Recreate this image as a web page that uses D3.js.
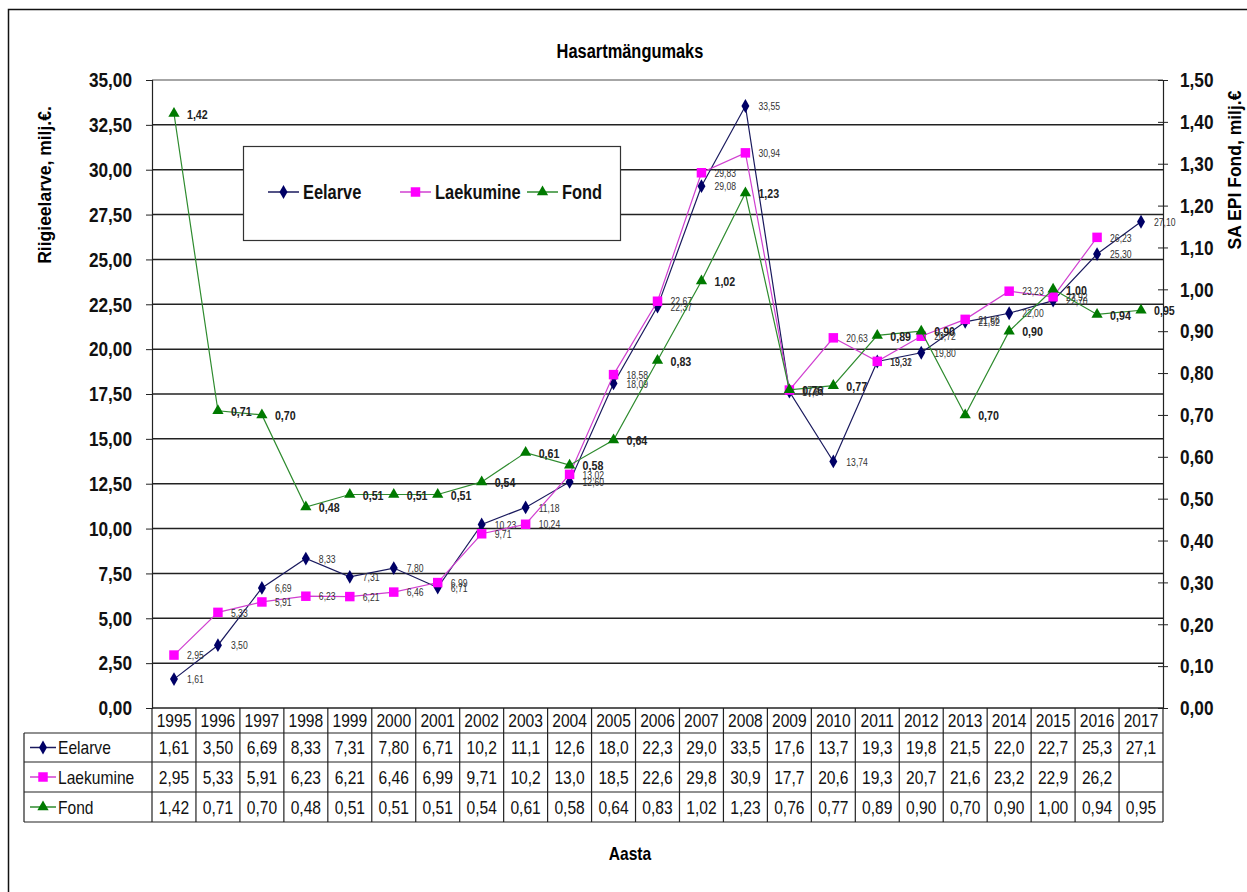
<!DOCTYPE html>
<html>
<head>
<meta charset="utf-8">
<script src="https://cdn.jsdelivr.net/npm/d3@7"></script>
<style>
  body { margin: 0; background: #fff; }
  svg text { font-family: "Liberation Sans Narrow", "Arial Narrow", "Liberation Sans", Arial, sans-serif; }
</style>
</head>
<body>
<div id="chart"></div>
<script>
// values
const years = ["1995", "1996", "1997", "1998", "1999", "2000", "2001", "2002", "2003", "2004", "2005", "2006",
    "2007", "2008", "2009", "2010", "2011", "2012", "2013", "2014", "2015", "2016", "2017"];
const eelarve = [1.61, 3.50, 6.69, 8.33, 7.31, 7.80, 6.71, 10.23, 11.18, 12.60, 18.09, 22.37,
    29.08, 33.55, 17.64, 13.74, 19.31, 19.80, 21.52, 22.00, 22.70, 25.30, 27.10];
const laekumine = [2.95, 5.33, 5.91, 6.23, 6.21, 6.46, 6.99, 9.71, 10.24, 13.02, 18.58, 22.67,
    29.83, 30.94, 17.72, 20.63, 19.32, 20.72, 21.66, 23.23, 22.92, 26.23, null];
const fond = [1.42, 0.71, 0.70, 0.48, 0.51, 0.51, 0.51, 0.54, 0.61, 0.58, 0.64, 0.83,
    1.02, 1.23, 0.76, 0.77, 0.89, 0.90, 0.70, 0.90, 1.00, 0.94, 0.95];
const leftTicks = d3.range(0, 35.01, 2.5);
const rightTicks = d3.range(0, 1.501, 0.1);

const W = 1247, H = 892;
let plot = { left: 152, right: 1163, top: 80, bottom: 708 };

const locale = d3.formatLocale({ decimal: ",", thousands: " ", grouping: [3], currency: ["", "€"] });
const f2 = locale.format(".2f");
// the table shows three digits, cut (not rounded)
function tableText(v) {
    if (v == null) return "";
    if (v >= 10) return locale.format(".1f")(Math.floor(v * 10 + 1e-9) / 10);
    return f2(v);
}

let svg = d3.select("#chart").append("svg")
    .attr("width", W)
    .attr("height", H);

// outer frame (runs off the right and bottom edge)
svg.append("rect")
    .attr("x", 8.5).attr("y", 9.5)
    .attr("width", 1300).attr("height", 950)
    .attr("fill", "#fff")
    .attr("stroke", "#111").attr("stroke-width", 1.5);

let x = d3.scaleBand().domain(years).range([plot.left, plot.right]);
let yL = d3.scaleLinear().domain([0, 35]).range([plot.bottom, plot.top]);
let yR = d3.scaleLinear().domain([0, 1.5]).range([plot.bottom, plot.top]);
const cx = d => x(d) + x.bandwidth() / 2;

// gridlines
svg.append("g")
    .selectAll("line")
    .data(leftTicks)
    .join("line")
    .attr("x1", plot.left).attr("x2", plot.right)
    .attr("y1", d => yL(d)).attr("y2", d => yL(d))
    .attr("stroke", d => d === 35 ? "#888" : "#222")
    .attr("stroke-width", 1.5);

// left axis
let gL = svg.append("g")
    .attr("transform", `translate(${plot.left},0)`)
    .call(d3.axisLeft(yL).tickValues(leftTicks).tickFormat(f2).tickSize(6).tickPadding(14));
gL.select(".domain").attr("stroke", "#222").attr("stroke-width", 1.2);
gL.selectAll(".tick line").attr("stroke", "#222");
gL.selectAll(".tick text")
    .attr("font-size", 21).attr("font-weight", "bold").attr("fill", "#111")
    .style("font-family", "'Liberation Sans Narrow', 'Arial Narrow', 'Liberation Sans', sans-serif");

// right axis, ticks cross the line
let gR = svg.append("g")
    .attr("transform", `translate(${plot.right},0)`)
    .call(d3.axisRight(yR).tickValues(rightTicks).tickFormat(f2).tickSize(5).tickPadding(12));
gR.select(".domain").attr("stroke", "#222").attr("stroke-width", 1.2);
gR.selectAll(".tick line").attr("x1", -5).attr("stroke", "#222");
gR.selectAll(".tick text")
    .attr("font-size", 21).attr("font-weight", "bold").attr("fill", "#111")
    .style("font-family", "'Liberation Sans Narrow', 'Arial Narrow', 'Liberation Sans', sans-serif");

// titles
svg.append("text")
    .attr("x", 630).attr("y", 58)
    .attr("text-anchor", "middle")
    .attr("font-size", 20).attr("font-weight", "bold")
    .text("Hasartmängumaks");

svg.append("text")
    .attr("class", "wide")
    .attr("transform", "translate(51,185) rotate(-90)")
    .attr("text-anchor", "middle")
    .attr("font-size", 17.5).attr("font-weight", "bold")
    .style("font-family", "'Liberation Sans', Arial, sans-serif")
    .text("Riigieelarve, milj.€.");

svg.append("text")
    .attr("class", "wide")
    .attr("transform", "translate(1241,170) rotate(-90)")
    .attr("text-anchor", "middle")
    .attr("font-size", 17.5).attr("font-weight", "bold")
    .style("font-family", "'Liberation Sans', Arial, sans-serif")
    .text("SA EPI Fond, milj.€");

svg.append("text")
    .attr("x", 630).attr("y", 860)
    .attr("text-anchor", "middle")
    .attr("font-size", 19).attr("font-weight", "bold")
    .text("Aasta");

// series setup
let series = [
    { name: "Eelarve", values: eelarve, y: yL, line: "#1a1a5e", fill: "#000066", marker: "diamond" },
    { name: "Laekumine", values: laekumine, y: yL, line: "#d040d0", fill: "#ff00ff", marker: "square" },
    { name: "Fond", values: fond, y: yR, line: "#2e8b2e", fill: "#007a00", marker: "triangle" }
];

function markerPath(type) {
    if (type === "diamond") return d3.symbol(d3.symbolDiamond, 55)();
    if (type === "square") return d3.symbol(d3.symbolSquare, 90)();
    return d3.symbol(d3.symbolTriangle, 55)();
}

// lines, markers, data labels
series.forEach(s => {
    let pts = years.map((yr, i) => ({ yr: yr, v: s.values[i] }));
    let line = d3.line()
        .defined(d => d.v != null)
        .x(d => cx(d.yr))
        .y(d => s.y(d.v));

    let g = svg.append("g");
    g.append("path")
        .datum(pts)
        .attr("d", line)
        .attr("fill", "none")
        .attr("stroke", s.line)
        .attr("stroke-width", 1.2);

    g.selectAll("path.mark")
        .data(pts.filter(d => d.v != null))
        .join("path")
        .attr("class", "mark")
        .attr("d", markerPath(s.marker))
        .attr("transform", d => `translate(${cx(d.yr)},${s.y(d.v)})`)
        .attr("fill", s.fill);

    g.selectAll("text")
        .data(pts.filter(d => d.v != null))
        .join("text")
        .attr("x", d => cx(d.yr) + 13)
        .attr("y", d => s.y(d.v))
        .attr("dy", "0.4em")
        .attr("font-size", s.name === "Fond" ? 13 : 10.5)
        .attr("font-weight", s.name === "Fond" ? "bold" : "normal")
        .attr("fill", s.name === "Fond" ? "#222" : "#333")
        .text(d => f2(d.v));
});

// legend
let leg = svg.append("g");
leg.append("rect")
    .attr("x", 243.5).attr("y", 146.5)
    .attr("width", 377).attr("height", 94)
    .attr("fill", "#fff")
    .attr("stroke", "#333").attr("stroke-width", 1.2);
const legX = [268, 400, 527];
series.forEach((s, i) => {
    let lx = legX[i], ly = 192;
    leg.append("line")
        .attr("x1", lx).attr("x2", lx + 31)
        .attr("y1", ly).attr("y2", ly)
        .attr("stroke", s.line).attr("stroke-width", 1.5);
    leg.append("path")
        .attr("d", markerPath(s.marker))
        .attr("transform", `translate(${lx + 15.5},${ly})`)
        .attr("fill", s.fill);
    leg.append("text")
        .attr("x", lx + 35).attr("y", ly)
        .attr("dy", "0.36em")
        .attr("font-size", 20).attr("font-weight", "bold")
        .attr("fill", "#111")
        .text(s.name);
});

// data table under the axis
let rowTop = [708, 733, 762, 792, 822];
let tbl = svg.append("g");

// header (years)
tbl.selectAll("text.yr")
    .data(years)
    .join("text")
    .attr("class", "yr")
    .attr("x", d => cx(d))
    .attr("y", (rowTop[0] + rowTop[1]) / 2)
    .attr("dy", "0.36em")
    .attr("text-anchor", "middle")
    .attr("font-size", 19)
    .attr("fill", "#111")
    .text(d => d);

series.forEach((s, i) => {
    let y0 = rowTop[i + 1], y1 = rowTop[i + 2], ym = (y0 + y1) / 2;
    tbl.append("line")
        .attr("x1", 30).attr("x2", 56)
        .attr("y1", ym).attr("y2", ym)
        .attr("stroke", s.line).attr("stroke-width", 1.5);
    tbl.append("path")
        .attr("d", markerPath(s.marker))
        .attr("transform", `translate(43,${ym})`)
        .attr("fill", s.fill);
    tbl.append("text")
        .attr("x", 58).attr("y", ym)
        .attr("dy", "0.36em")
        .attr("font-size", 19)
        .attr("fill", "#111")
        .text(s.name);
    tbl.selectAll("text.v" + i)
        .data(years.map((yr, j) => ({ yr: yr, v: s.values[j] })))
        .join("text")
        .attr("class", "v" + i)
        .attr("x", d => cx(d.yr))
        .attr("y", ym)
        .attr("dy", "0.36em")
        .attr("text-anchor", "middle")
        .attr("font-size", 19)
        .attr("fill", "#111")
        .text(d => tableText(d.v));
});

// table borders
tbl.selectAll("line.h")
    .data(rowTop.slice(1))
    .join("line")
    .attr("class", "h")
    .attr("x1", 24).attr("x2", plot.right)
    .attr("y1", d => d).attr("y2", d => d)
    .attr("stroke", "#222").attr("stroke-width", 1.2);
tbl.append("line")
    .attr("x1", 24).attr("x2", 24)
    .attr("y1", rowTop[1]).attr("y2", rowTop[4])
    .attr("stroke", "#222").attr("stroke-width", 1.2);
tbl.selectAll("line.v")
    .data(years.map(d => x(d)).concat([plot.right]))
    .join("line")
    .attr("class", "v")
    .attr("x1", d => d).attr("x2", d => d)
    .attr("y1", rowTop[0]).attr("y2", rowTop[4])
    .attr("stroke", "#222").attr("stroke-width", 1.2);

// no narrow font installed: squeeze the glyphs to look like Arial Narrow
svg.selectAll("text:not(.wide)").each(function () {
    let w = this.getComputedTextLength();
    if (w > 0) d3.select(this).attr("textLength", w * 0.82).attr("lengthAdjust", "spacingAndGlyphs");
});
</script>
</body>
</html>
